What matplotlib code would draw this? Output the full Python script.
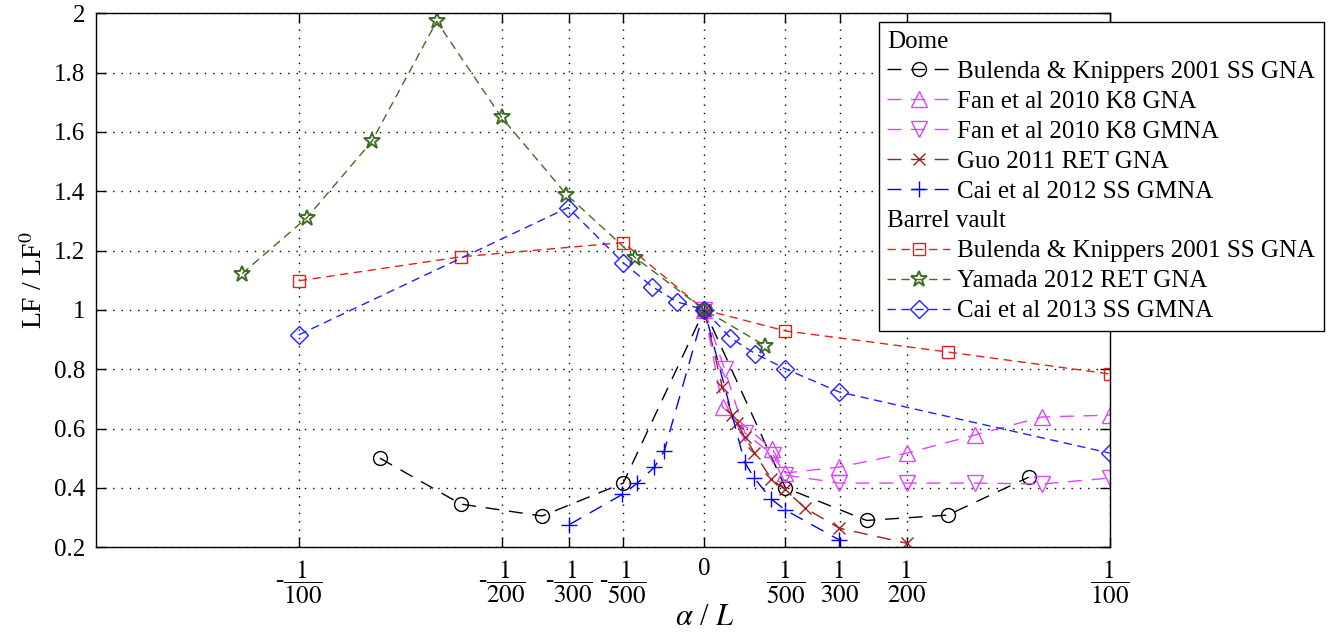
import numpy as np
import matplotlib
matplotlib.use('Agg')
import matplotlib.pyplot as plt
from matplotlib.lines import Line2D
from matplotlib.ticker import FormatStrFormatter

plt.rcParams['font.family'] = 'serif'
plt.rcParams['font.serif'] = ['Liberation Serif', 'DejaVu Serif']
plt.rcParams['mathtext.fontset'] = 'stix'

# ---- Dome ----
bk_dome_x = [-0.008, -0.006, -0.004, -0.002, 0, 0.002, 0.004, 0.006, 0.008]
bk_dome_y = [0.50, 0.345, 0.305, 0.416, 1.0, 0.40, 0.29, 0.308, 0.436]
fan_gna_x = [0, 0.00045, 0.00168, 0.002, 0.00333, 0.005, 0.00667, 0.00833, 0.01]
fan_gna_y = [1.0, 0.672, 0.53, 0.45, 0.47, 0.517, 0.578, 0.639, 0.645]
fan_gmna_x = [0, 0.0005, 0.001, 0.0017, 0.002, 0.00333, 0.005, 0.00667, 0.00833, 0.01]
fan_gmna_y = [1.0, 0.80, 0.585, 0.51, 0.443, 0.416, 0.416, 0.416, 0.413, 0.433]
guo_x = [0, 0.00044, 0.00069, 0.00081, 0.00099, 0.00123, 0.00165, 0.00198, 0.00249, 0.00333, 0.005]
guo_y = [1.0, 0.741, 0.646, 0.620, 0.573, 0.519, 0.43, 0.395, 0.331, 0.264, 0.213]
cai12_x = [-0.00333, -0.00202, -0.00165, -0.00123, -0.00099, 0, 0.00099, 0.00123, 0.00165, 0.002, 0.00333]
cai12_y = [0.276, 0.378, 0.416, 0.47, 0.524, 1.0, 0.487, 0.433, 0.362, 0.325, 0.224]

# ---- Barrel vault ----
bk_barrel_x = [-0.01, -0.006, -0.002, 0, 0.002, 0.006, 0.01]
bk_barrel_y = [1.098, 1.179, 1.227, 1.0, 0.929, 0.858, 0.784]
yamada_x = [-0.0114, -0.0098, -0.0082, -0.0066, -0.005, -0.0034, -0.0017, 0, 0.0015]
yamada_y = [1.122, 1.311, 1.568, 1.973, 1.649, 1.389, 1.176, 1.0, 0.879]
cai13_x = [-0.01, -0.00336, -0.002, -0.00128, -0.00067, 0, 0.00064, 0.00126, 0.002, 0.00333, 0.01]
cai13_y = [0.916, 1.345, 1.159, 1.078, 1.027, 1.0, 0.906, 0.852, 0.801, 0.723, 0.517]

xtick_vals = [-1/100, -1/200, -1/300, -1/500, 0, 1/500, 1/300, 1/200, 1/100]
xtick_labels = [r'-$\dfrac{1}{100}$', r'-$\dfrac{1}{200}$', r'-$\dfrac{1}{300}$', r'-$\dfrac{1}{500}$', '0',
                r'$\dfrac{1}{500}$', r'$\dfrac{1}{300}$', r'$\dfrac{1}{200}$', r'$\dfrac{1}{100}$']
ytick_vals = [0.2, 0.4, 0.6, 0.8, 1.0, 1.2, 1.4, 1.6, 1.8, 2.0]

fig = plt.figure(figsize=(13.34, 6.34), dpi=100)
ax = fig.add_axes([0.072, 0.137, 0.760, 0.842])

# line widths are 1, so dash lengths are in points
dome_dash = (10, 7)
barrel_dash = (6, 4)
mew = 1.0

h1, = ax.plot(bk_dome_x, bk_dome_y, color='black', dashes=dome_dash, lw=1, marker='o', ms=10,
              mfc='none', mew=mew, label='Bulenda & Knippers 2001 SS GNA')
h2, = ax.plot(fan_gna_x, fan_gna_y, color='#dd44ff', dashes=dome_dash, lw=1, marker='^', ms=11,
              mfc='none', mew=mew, label='Fan et al 2010 K8 GNA')
h3, = ax.plot(fan_gmna_x, fan_gmna_y, color='#dd44ff', dashes=dome_dash, lw=1, marker='v', ms=11,
              mfc='none', mew=mew, label='Fan et al 2010 K8 GMNA')
h4, = ax.plot(guo_x, guo_y, color='#a02020', dashes=dome_dash, lw=1, marker='x', ms=8,
              mew=mew, label='Guo 2011 RET GNA')
h5, = ax.plot(cai12_x, cai12_y, color='#0000ff', dashes=dome_dash, lw=1, marker='+', ms=12,
              mew=mew, label='Cai et al 2012 SS GMNA')
h6, = ax.plot(bk_barrel_x, bk_barrel_y, color='#e02020', dashes=barrel_dash, lw=1, marker='s', ms=8,
              mfc='none', mew=mew, label='Bulenda & Knippers 2001 SS GNA')
h7, = ax.plot(yamada_x, yamada_y, color='#3f6e23', dashes=barrel_dash, lw=1, marker='*', ms=12,
              mfc='none', mew=1.4, label='Yamada 2012 RET GNA')
h8, = ax.plot(cai13_x, cai13_y, color='#2020ff', dashes=barrel_dash, lw=1, marker='D', ms=9,
              mfc='none', mew=mew, label='Cai et al 2013 SS GMNA')

ax.set_xlim(-0.015, 0.01)
ax.set_ylim(0.2, 2.0)
ax.set_xticks(xtick_vals)
ax.set_xticklabels(xtick_labels)
ax.set_yticks(ytick_vals)
ax.yaxis.set_major_formatter(FormatStrFormatter('%g'))
ax.tick_params(direction='in', length=7, width=1, top=True, right=True, labelsize=18, pad=8)
ax.grid(True, color='black', linestyle=(0, (1, 5)), lw=1)
for s in ax.spines.values():
    s.set_linewidth(1)

ax.set_ylabel(r'LF / LF$^0$', fontsize=20, labelpad=4)
ax.set_xlabel(r'$\alpha$ / $L$', fontsize=22)
ax.xaxis.set_label_coords(0.6, -0.105)

blank = Line2D([], [], color='none')
headers = ['Dome', 'Barrel vault']
handles = [blank, h1, h2, h3, h4, h5, blank, h6, h7, h8]
labels = ['Dome', h1.get_label(), h2.get_label(), h3.get_label(), h4.get_label(), h5.get_label(),
          'Barrel vault', h6.get_label(), h7.get_label(), h8.get_label()]
leg = fig.legend(handles, labels, loc='upper right', bbox_to_anchor=(1324/1334, 1 - 22/634),
                 fontsize=18, numpoints=1, handlelength=2.5, handletextpad=0.3, labelspacing=0.3,
                 borderpad=0.35, borderaxespad=0, fancybox=False, framealpha=1, edgecolor='black')
leg.get_frame().set_linewidth(1)

# header rows: drop the handle so the text starts at the left edge
for row in leg._legend_handle_box.get_children()[0].get_children():
    da, txt = row.get_children()
    if txt.get_text() in headers:
        row._children = [txt]

fig.savefig('out.png', dpi=100)
